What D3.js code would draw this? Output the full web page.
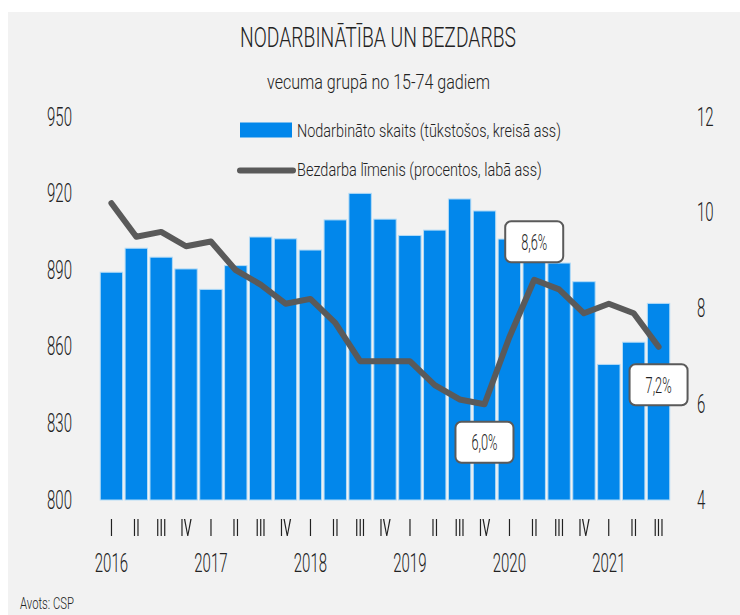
<!DOCTYPE html>
<html>
<head>
<meta charset="utf-8">
<script src="https://cdn.jsdelivr.net/npm/d3@7"></script>
<style>
  html, body { margin: 0; padding: 0; background: #ffffff; }
  svg { display: block; }
  text { font-family: "Roboto", "Liberation Sans", sans-serif; font-weight: 300; fill: #222; }
</style>
</head>
<body>
<svg id="chart" width="740" height="615"></svg>
<script>
// ---- Data ----
const quarters = ["I","II","III","IV","I","II","III","IV","I","II","III","IV",
                  "I","II","III","IV","I","II","III","IV","I","II","III"];
const years = ["2016","2017","2018","2019","2020","2021"];
const yearStart = [0, 4, 8, 12, 16, 20];
// Nodarbināto skaits, tūkst. (kreisā ass)
const employed = [889.2, 898.6, 895.1, 890.5,
                  882.5, 891.8, 903.0, 902.3,
                  897.9, 909.7, 920.1, 910.0,
                  903.6, 905.7, 917.9, 913.2,
                  902.2, 895.0, 892.8, 885.5,
                  853.1, 861.8, 877.0];
// Bezdarba līmenis, % (labā ass)
const unemployment = [10.2, 9.5, 9.6, 9.3,
                      9.4, 8.8, 8.5, 8.1,
                      8.2, 7.7, 6.9, 6.9,
                      6.9, 6.4, 6.1, 6.0,
                      7.4, 8.6, 8.4, 7.9,
                      8.1, 7.9, 7.2];
const leftTicks = [800, 830, 860, 890, 920, 950];
const rightTicks = [4, 6, 8, 10, 12];
const callouts = [ {i: 15, side: 1}, {i: 17, side: -1}, {i: 22, side: 1} ];

const titleText = "NODARBINĀTĪBA UN BEZDARBS";
const subtitleText = "vecuma grupā no 15-74 gadiem";
const legendBar = "Nodarbināto skaits (tūkstošos, kreisā ass)";
const legendLine = "Bezdarba līmenis (procentos, labā ass)";
const sourceText = "Avots: CSP";

// ---- Styles ----
const barColor = "#0287eb";
const barStroke = "#b3dbf6";
const lineColor = "#5a5a5a";
const SQ = 0.6;

const svg = d3.select("#chart");

// identity filter: forces the group to be rasterised offscreen (grayscale text AA)
const flt = svg.append("defs").append("filter").attr("id", "gray")
  .attr("x", "-10%").attr("y", "-10%").attr("width", "120%").attr("height", "120%");
flt.append("feOffset").attr("in", "SourceGraphic").attr("dx", 0).attr("dy", 0);

// horizontal squeeze around the text's own x anchor, via transform
function squeeze(sel, k) {
  sel.each(function() {
    const el = d3.select(this);
    const tx = +(el.attr("x") || 0);
    el.attr("transform", `matrix(${k},0,0,1,${tx * (1 - k)},0)`);
  });
}
function fitWidth(sel, w) {
  sel.each(function() {
    const nat = this.getComputedTextLength();
    d3.select(this).call(squeeze, w / nat);
  });
}

// background
svg.append("rect").attr("x", 8).attr("y", 12).attr("width", 732).attr("height", 603).attr("fill", "#f2f2f2");

// scales
const x = d3.scaleBand().domain(d3.range(quarters.length)).range([99, 671]).paddingInner(0.1).paddingOuter(0.05);
const yL = d3.scaleLinear().domain([800, 950]).range([500, 117]);
const yR = d3.scaleLinear().domain([4, 12]).range([500, 117]);

// title
svg.append("text").attr("x", 378).attr("y", 47).attr("text-anchor", "middle")
  .style("font-size", "27px").text(titleText).call(fitWidth, 276);
svg.append("text").attr("x", 378.5).attr("y", 89).attr("text-anchor", "middle")
  .style("font-size", "20px").text(subtitleText).call(fitWidth, 223);

// bars
svg.append("g").selectAll("rect").data(employed).join("rect")
  .attr("x", (d, i) => x(i))
  .attr("y", d => yL(d))
  .attr("width", x.bandwidth())
  .attr("height", d => yL(800) - yL(d))
  .attr("fill", barColor)
  .attr("stroke", barStroke)
  .attr("stroke-width", 1);

// line
const line = d3.line().x((d, i) => x(i) + x.bandwidth() / 2).y(d => yR(d));
svg.append("path").datum(unemployment)
  .attr("d", line).attr("fill", "none").attr("stroke", lineColor)
  .attr("stroke-width", 6).attr("stroke-linecap", "round").attr("stroke-linejoin", "round");

// left axis
const gL = svg.append("g").attr("transform", "translate(99,0)")
  .call(d3.axisLeft(yL).tickValues(leftTicks).tickSize(0).tickPadding(27));
gL.select(".domain").remove();
gL.selectAll("text").style("font-size", "25px").style("font-family", null).attr("fill", "#222").call(squeeze, SQ);

// right axis
const gR = svg.append("g").attr("transform", "translate(671,0)")
  .call(d3.axisRight(yR).tickValues(rightTicks).tickSize(0).tickPadding(26));
gR.select(".domain").remove();
gR.selectAll("text").style("font-size", "25px").style("font-family", null).attr("fill", "#222").call(squeeze, SQ);

// bottom axis (quarters)
const gB = svg.append("g").attr("filter", "url(#gray)").attr("transform", "translate(0,500)")
  .call(d3.axisBottom(x).tickFormat(i => quarters[i]).tickSize(0).tickPadding(20));
gB.select(".domain").remove();
gB.selectAll("text").style("font-size", "23px").style("font-family", null)
  .style("font-weight", 400).attr("fill", "#222").call(squeeze, 0.55);

// years
svg.append("g").selectAll("text").data(years).join("text")
  .attr("x", (d, k) => x(yearStart[k]) + x.bandwidth() / 2)
  .attr("y", 572).attr("text-anchor", "middle")
  .style("font-size", "25px").text(d => d).call(squeeze, SQ);

// legend
svg.append("rect").attr("x", 240).attr("y", 122.5).attr("width", 52).attr("height", 15).attr("fill", barColor);
svg.append("text").attr("x", 297).attr("y", 137.5).style("font-size", "19px").text(legendBar).call(fitWidth, 264);
svg.append("line").attr("x1", 240).attr("x2", 293).attr("y1", 170.5).attr("y2", 170.5)
  .attr("stroke", lineColor).attr("stroke-width", 6).attr("stroke-linecap", "round");
svg.append("text").attr("x", 297).attr("y", 176).style("font-size", "19px").text(legendLine).call(fitWidth, 245);

// callouts
const fmt = v => d3.format(".1f")(v).replace(".", ",") + "%";
const bw = 58, bh = 41;
const cg = svg.append("g").selectAll("g").data(callouts).join("g")
  .attr("transform", d => {
    const cx = x(d.i) + x.bandwidth() / 2;
    const cy = yR(unemployment[d.i]) + d.side * 38;
    return `translate(${cx},${cy})`;
  });
cg.append("rect").attr("x", -bw / 2).attr("y", -bh / 2).attr("width", bw).attr("height", bh)
  .attr("rx", 6).attr("fill", "#ffffff").attr("stroke", lineColor).attr("stroke-width", 2);
cg.append("text").attr("text-anchor", "middle").attr("y", 8)
  .style("font-size", "22px").text(d => fmt(unemployment[d.i])).call(squeeze, 0.58);

// source
svg.append("text").attr("x", 20).attr("y", 609).style("font-size", "17px").text(sourceText).call(fitWidth, 54);
</script>
</body>
</html>
